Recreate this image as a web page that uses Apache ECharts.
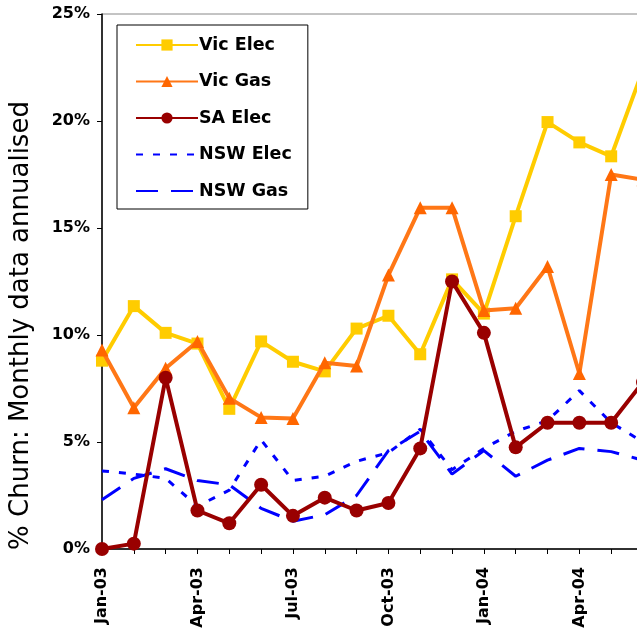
<!DOCTYPE html>
<html>
<head>
<meta charset="utf-8">
<script src="https://cdn.jsdelivr.net/npm/echarts@6/dist/echarts.min.js"></script>
<style>
  html, body { margin: 0; padding: 0; background: #fff; }
  #chart { width: 637px; height: 633px; }
</style>
</head>
<body>
<div id="chart"></div>
<script>
// months Jan-03 .. Jun-04 (the last one sits just past the right edge)
const months = ['Jan-03', 'Feb-03', 'Mar-03', 'Apr-03', 'May-03', 'Jun-03', 'Jul-03', 'Aug-03', 'Sep-03',
  'Oct-03', 'Nov-03', 'Dec-03', 'Jan-04', 'Feb-04', 'Mar-04', 'Apr-04', 'May-04', 'Jun-04'];

// churn, % annualised
const vicElec = [8.8, 11.35, 10.1, 9.6, 6.55, 9.7, 8.75, 8.3, 10.3, 10.9, 9.1, 12.6, 11.0, 15.55, 19.95, 19.0, 18.35, 22.4];
const vicGas  = [9.3, 6.6, 8.45, 9.7, 7.05, 6.15, 6.1, 8.7, 8.55, 12.8, 15.95, 15.95, 11.15, 11.25, 13.2, 8.2, 17.5, 17.25];
const saElec  = [0, 0.25, 8.0, 1.8, 1.2, 3.0, 1.55, 2.4, 1.8, 2.15, 4.7, 12.5, 10.1, 4.75, 5.9, 5.9, 5.9, 7.8];
const nswElec = [3.65, 3.5, 3.3, 2.0, 2.75, 5.1, 3.2, 3.4, 4.1, 4.5, 5.6, 3.7, 4.7, 5.5, 6.0, 7.4, 5.9, 5.0];
const nswGas  = [2.3, 3.3, 3.75, 3.2, 3.0, 1.9, 1.3, 1.6, 2.5, 4.6, 5.5, 3.5, 4.6, 3.4, 4.15, 4.7, 4.55, 4.15];

const yTicks = { min: 0, max: 25, interval: 5 };

const FONT = 'DejaVu Sans';

const chart = echarts.init(document.getElementById('chart'));

chart.setOption({
  animation: false,
  backgroundColor: '#fff',
  grid: {
    left: 102, top: 14, right: -6, bottom: 84,
    outerBoundsMode: 'none',
    show: true, borderColor: '#888', borderWidth: 1, backgroundColor: 'transparent'
  },
  legend: {
    left: 117, top: 25,
    orient: 'vertical',
    padding: [11, 16, 9, 18],
    borderColor: '#000', borderWidth: 1,
    backgroundColor: '#fff',
    itemWidth: 62, itemHeight: 14, itemGap: 18.5,
    textStyle: { fontFamily: FONT, fontWeight: 'bold', fontSize: 17.5, color: '#000', padding: [0, 0, 0, -4] },
    data: [
      'Vic Elec', 'Vic Gas', 'SA Elec',
      { name: 'NSW Elec', itemStyle: { opacity: 0 } },
      { name: 'NSW Gas', itemStyle: { opacity: 0 } }
    ]
  },
  xAxis: {
    type: 'category',
    data: months,
    boundaryGap: false,
    axisLine: { lineStyle: { color: '#000', width: 1.5 } },
    axisTick: { show: true, interval: 0, length: 5, lineStyle: { color: '#000' } },
    axisLabel: {
      interval: 2, rotate: 90, margin: 18,
      fontFamily: FONT, fontWeight: 'bold', fontSize: 16, color: '#000'
    },
    splitLine: { show: false }
  },
  yAxis: {
    type: 'value',
    min: yTicks.min, max: yTicks.max, interval: yTicks.interval,
    name: '% Churn: Monthly data annualised',
    nameLocation: 'middle',
    nameGap: 68,
    nameTextStyle: { fontFamily: FONT, fontWeight: 'normal', fontSize: 26, color: '#000', padding: [0, 88, 0, 0] },
    axisLine: { show: true, lineStyle: { color: '#000', width: 1.5 } },
    axisTick: { show: true, length: 5, lineStyle: { color: '#000' } },
    axisLabel: {
      formatter: '{value}%', margin: 12,
      fontFamily: FONT, fontWeight: 'bold', fontSize: 16, color: '#000'
    },
    splitLine: { show: false }
  },
  series: [
    {
      name: 'Vic Elec', type: 'line', data: vicElec,
      symbol: 'rect', symbolSize: 12,
      itemStyle: { color: '#FFCC00' },
      lineStyle: { color: '#FFCC00', width: 4 },
      z: 3
    },
    {
      name: 'Vic Gas', type: 'line', data: vicGas,
      symbol: 'triangle', symbolSize: 13,
      itemStyle: { color: '#FF6600' },
      lineStyle: { color: '#FF7716', width: 4 },
      z: 4
    },
    {
      name: 'SA Elec', type: 'line', data: saElec,
      symbol: 'circle', symbolSize: 14,
      itemStyle: { color: '#990000' },
      lineStyle: { color: '#990000', width: 4 },
      z: 5
    },
    {
      name: 'NSW Elec', type: 'line', data: nswElec,
      showSymbol: false, symbol: 'none',
      itemStyle: { color: '#0000FF' },
      lineStyle: { color: '#0000FF', width: 3, type: [7, 10], cap: 'butt' },
      z: 2
    },
    {
      name: 'NSW Gas', type: 'line', data: nswGas,
      showSymbol: false, symbol: 'none',
      itemStyle: { color: '#0000FF' },
      lineStyle: { color: '#0000FF', width: 3, type: [22, 13], cap: 'butt' },
      z: 2
    }
  ]
});
</script>
</body>
</html>
